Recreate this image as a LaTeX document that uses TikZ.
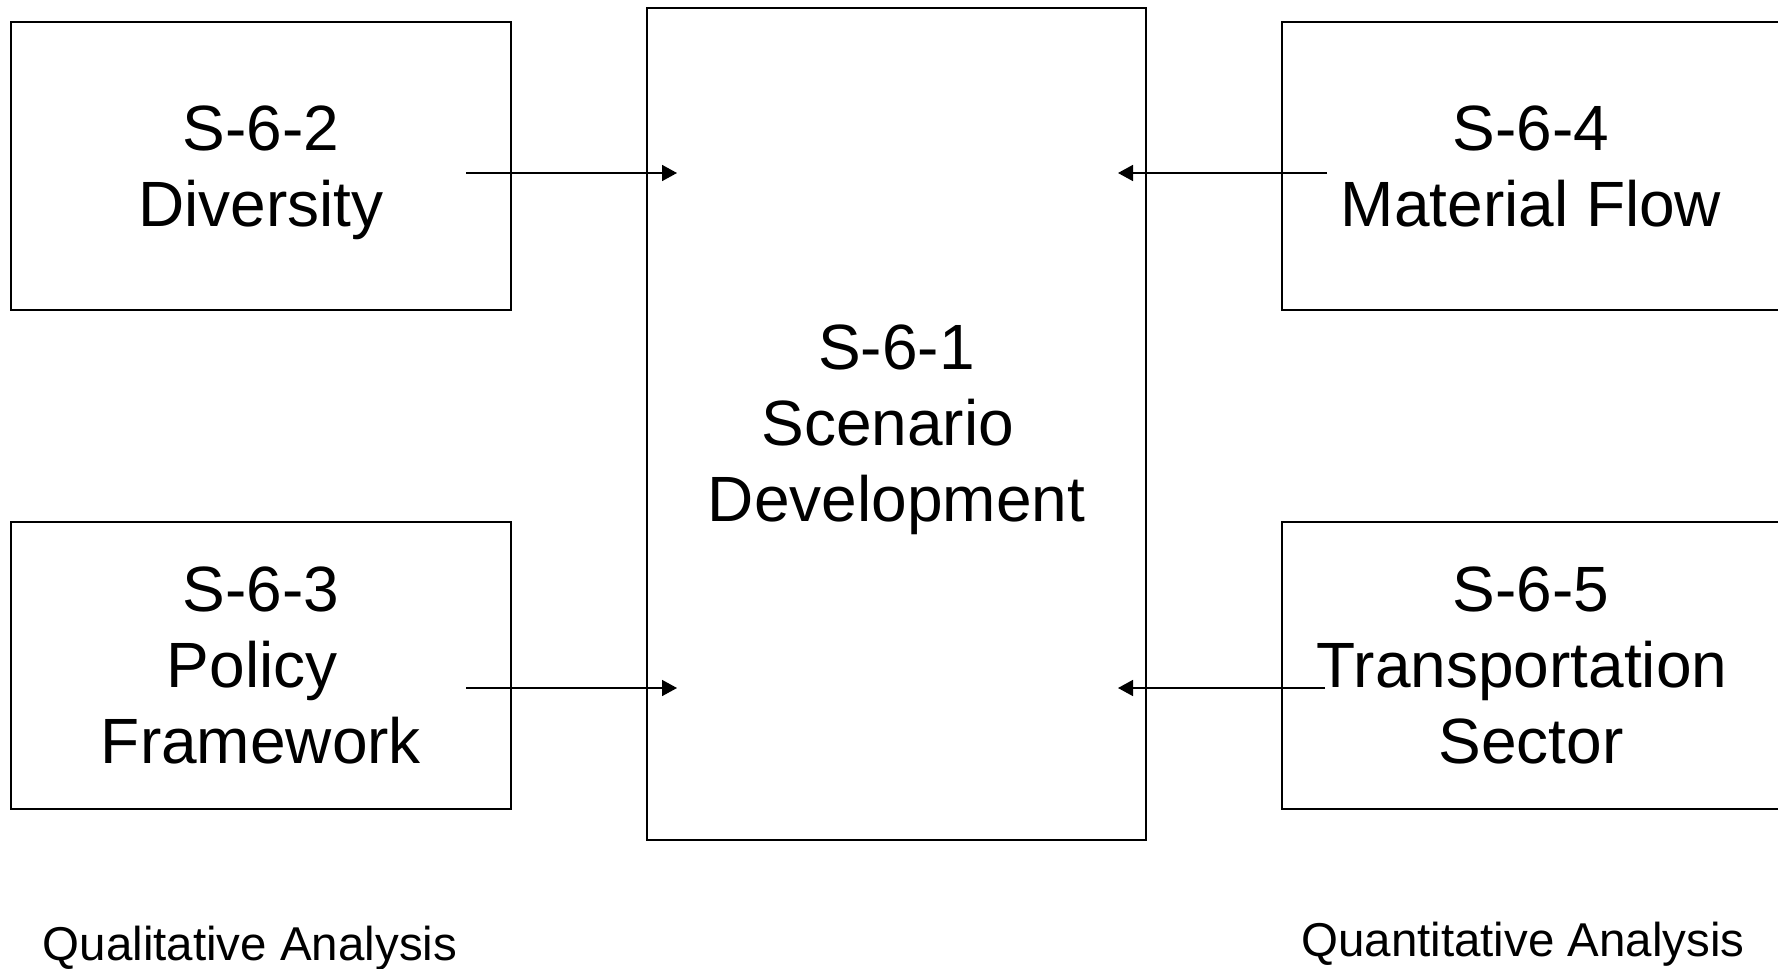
\documentclass[tikz,border=0pt]{standalone}
\usepackage{fontspec}
\setmainfont{Liberation Sans}
\usetikzlibrary{arrows.meta}
\newcommand{\trsp}{\rule{0.278em}{0pt}}
\begin{document}
\begin{tikzpicture}[x=1pt,y=-1pt,
  box/.style={draw,line width=2pt,inner sep=0pt,align=center,font=\fontsize{64}{76}\selectfont},
  conn/.style={line width=1.6pt,-{Triangle[length=15pt,width=16pt]}},
  caption/.style={inner sep=0pt,anchor=base,font=\fontsize{47.5}{57}\selectfont}]
\useasboundingbox (0,0) rectangle (1778,969);
\node[box,minimum width=500pt,minimum height=288pt] (b2) at (261,166) {S-6-2\\\smash{Diversity}};
\node[box,minimum width=500pt,minimum height=287pt] (b3) at (261,665.5) {S-6-3\\Policy\trsp\\Framework};
\node[box,minimum width=499pt,minimum height=832pt] (b1) at (896.5,423.5) {S-6-1\\Scenario\trsp\\\smash{Development}};
\node[box,minimum width=499pt,minimum height=288pt] (b4) at (1531.5,166) {};
\node[font=\fontsize{64}{76}\selectfont,align=center,inner sep=0pt] (t4) at (1531,166) {S-6-4\\Material Flow};
\node[box,minimum width=499pt,minimum height=287pt] (b5) at (1531.5,665.5) {};
\node[font=\fontsize{64}{76}\selectfont,align=center,inner sep=0pt] (t5) at (1531,665.5) {S-6-5\\Transportation\trsp\\Sector};
\coordinate (s2) at (466,173);
\coordinate (e2) at (677,173);
\coordinate (s3) at (466,688);
\coordinate (e3) at (677,688);
\coordinate (s4) at (1327,173);
\coordinate (e4) at (1118,173);
\coordinate (s5) at (1325,688);
\coordinate (e5) at (1118,688);
\draw[conn] (s2) -- (e2);
\draw[conn] (s3) -- (e3);
\draw[conn] (s4) -- (e4);
\draw[conn] (s5) -- (e5);
\node[caption] (ql) at (250,960) {Qualitative Analysis};
\node[caption] (qn) at (1523,956) {Quantitative Analysis};
\end{tikzpicture}
\end{document}
